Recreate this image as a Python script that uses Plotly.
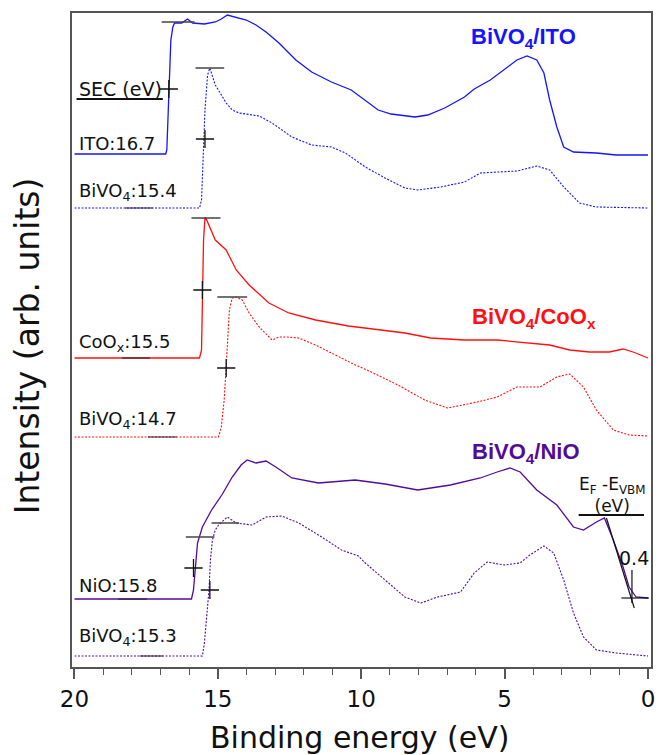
import plotly.graph_objects as go

# ---------------- data (binding energy in eV, intensity in arb. units) ----------------
ito_be = [20.0, 16.82, 16.78, 16.71, 16.64, 16.57, 16.51, 16.26, 16.06, 15.88, 15.47, 15.09, 14.88, 14.67,
          14.43, 14.01, 13.67, 13.32, 12.87, 12.28, 11.73, 11.04, 10.35, 9.86, 9.41, 8.96, 8.13, 7.68, 7.09,
          6.40, 6.06, 5.50, 5.02, 4.57, 4.22, 3.88, 3.63, 3.43, 3.18, 2.94, 2.60, 1.80, 1.11, 0.0]
ito_int = [513, 513, 517, 567, 627, 640, 644, 644, 648, 644, 643, 645, 648, 652,
           650, 647, 642, 635, 624, 607, 595, 585, 577, 567, 557, 553, 550, 552, 559,
           570, 578, 587, 597, 607, 611, 607, 594, 567, 540, 520, 515, 514, 512, 512]

bvo_ito_be = [20.0, 15.64, 15.57, 15.50, 15.45, 15.36, 15.28, 15.09, 14.71, 14.50, 14.26, 13.56, 13.11, 12.42,
              11.73, 11.04, 10.55, 9.86, 9.17, 8.48, 8.03, 7.23, 6.40, 5.85, 5.26, 4.57, 3.88, 3.43, 2.94,
              2.39, 1.80, 0.0]
bvo_ito_int = [459, 459, 467, 517, 557, 592, 599, 582, 564, 557, 554, 551, 544, 530,
               522, 520, 514, 500, 489, 479, 477, 480, 485, 494, 495, 496, 501, 497, 480,
               464, 460, 459]

coox_be = [20.0, 15.64, 15.57, 15.54, 15.50, 15.45, 15.42, 15.09, 14.71, 14.36, 13.91, 13.22, 12.53, 11.59,
           10.45, 9.31, 8.48, 7.58, 6.40, 5.26, 4.12, 3.43, 2.73, 2.04, 1.35, 0.87, 0.52, 0.0]
coox_int = [309, 309, 317, 367, 427, 449, 449, 427, 417, 397, 382, 364, 354, 347,
            341, 337, 334, 329, 327, 327, 324, 322, 317, 315, 315, 318, 315, 309]

bvo_coox_be = [20.0, 14.98, 14.88, 14.78, 14.71, 14.63, 14.60, 14.50, 14.36, 14.15, 13.91, 13.56, 13.11, 12.87,
               12.63, 12.18, 11.59, 11.04, 10.35, 9.65, 8.72, 7.79, 6.99, 5.95, 5.26, 4.57, 3.77, 3.18, 2.73,
               2.25, 1.80, 1.21, 0.66, 0.0]
bvo_coox_int = [230, 230, 240, 267, 300, 337, 357, 369, 370, 367, 354, 340, 327, 330,
                330, 329, 322, 314, 304, 295, 282, 267, 259, 265, 270, 280, 280, 290, 293,
                280, 257, 237, 232, 231]

nio_be = [20.0, 15.92, 15.85, 15.78, 15.71, 15.54, 15.22, 14.84, 14.50, 14.19, 13.98, 13.67, 13.32, 12.98,
          12.42, 11.49, 10.21, 9.17, 8.03, 6.89, 5.85, 5.26, 4.81, 4.46, 3.88, 3.18, 2.60, 2.25, 1.80,
          1.52, 1.21, 0.87, 0.66, 0.42, 0.0]
nio_int = [68, 68, 77, 102, 124, 140, 157, 173, 190, 202, 207, 204, 206, 200,
           189, 184, 187, 183, 177, 182, 189, 195, 199, 195, 177, 162, 140, 137, 145,
           149, 127, 100, 80, 70, 69]

bvo_nio_be = [20.0, 15.54, 15.47, 15.36, 15.31, 15.26, 15.19, 15.09, 14.98, 14.67, 14.36, 13.81, 13.32, 12.77,
              12.18, 11.38, 10.69, 10.10, 9.86, 9.17, 8.48, 7.92, 7.34, 6.54, 6.06, 5.61, 5.02, 4.46, 4.12,
              3.63, 3.29, 2.94, 2.60, 2.25, 1.80, 1.11, 0.0]
bvo_nio_int = [11, 11, 24, 67, 77, 107, 127, 137, 142, 150, 144, 142, 150, 151,
               144, 130, 117, 111, 104, 87, 70, 64, 70, 75, 94, 105, 102, 104, 112,
               121, 114, 87, 54, 30, 17, 14, 11]

# SEC analysis marks: plateau bars (start, end, level) and cutoff crosses
bar_x0 = [16.96, 15.78, 15.92, 15.02, 16.12, 15.22]
bar_x1 = [15.81, 14.78, 14.91, 13.98, 15.12, 14.26]
bar_y = [645, 599, 449, 370, 130, 144]
cross_x = [16.71, 15.45, 15.54, 14.71, 15.85, 15.28]
cross_y = [578, 528, 377, 299, 99, 77]

# sample labels
label_text = ["ITO:16.7", "BiVO<sub>4</sub>:15.4", "CoO<sub>x</sub>:15.5",
              "BiVO<sub>4</sub>:14.7", "NiO:15.8", "BiVO<sub>4</sub>:15.3"]
label_y = [524, 475, 324, 247, 82, 30]
label_x = 19.9

group_text = ["BiVO<sub>4</sub>/ITO", "BiVO<sub>4</sub>/CoO<sub>x</sub>", "BiVO<sub>4</sub>/NiO"]
group_x = [4.33, 3.98, 4.26]
group_y = [629, 349, 214]

# short darker key segments on the baselines
key_x0 = [18.24, 18.34, 17.44, 18.48, 17.72]
key_x1 = [17.27, 17.37, 16.44, 17.47, 16.92]
key_y = [459, 309, 230, 68, 11]

# VBM extrapolation for NiO
vbm_base_x = [0.93, -0.03]
vbm_base_y = [69, 69]
vbm_tan_x = [1.45, 0.48]
vbm_tan_y = [149, 59]
vbm_tick_x = [0.56, 0.56]
vbm_tick_y = [97, 64]

BLUE = "#1414ff"
RED = "#ff1010"
PURPLE = "#530a9c"

fig = go.Figure()

def curve(x, y, color, dotted, width):
    fig.add_trace(go.Scatter(
        x=x, y=y, mode="lines",
        line=dict(color=color, width=width, dash="2px,1.5px" if dotted else "solid"),
        showlegend=False, hoverinfo="skip"))

curve(ito_be, ito_int, BLUE, False, 1.3)
curve(bvo_ito_be, bvo_ito_int, BLUE, True, 1.1)
curve(coox_be, coox_int, RED, False, 1.3)
curve(bvo_coox_be, bvo_coox_int, RED, True, 1.1)
curve(nio_be, nio_int, PURPLE, False, 1.3)
curve(bvo_nio_be, bvo_nio_int, PURPLE, True, 1.1)

# key segments
for x0, x1, y in zip(key_x0, key_x1, key_y):
    fig.add_trace(go.Scatter(x=[x0, x1], y=[y, y], mode="lines",
                             line=dict(color="rgba(40,20,40,0.75)", width=1.3),
                             showlegend=False, hoverinfo="skip"))

# plateau bars
for x0, x1, y in zip(bar_x0, bar_x1, bar_y):
    fig.add_trace(go.Scatter(x=[x0, x1], y=[y, y], mode="lines",
                             line=dict(color="#444444", width=1.5),
                             showlegend=False, hoverinfo="skip"))

# cutoff crosses
fig.add_trace(go.Scatter(x=cross_x, y=cross_y, mode="markers",
                         marker=dict(symbol="cross-thin", size=13,
                                     line=dict(color="#111111", width=1.3)),
                         showlegend=False, hoverinfo="skip"))

# VBM lines
for xs, ys in [(vbm_base_x, vbm_base_y), (vbm_tan_x, vbm_tan_y), (vbm_tick_x, vbm_tick_y)]:
    fig.add_trace(go.Scatter(x=xs, y=ys, mode="lines",
                             line=dict(color="#111111", width=1.2),
                             showlegend=False, hoverinfo="skip"))

# SEC header underline and VBM header underline
fig.add_trace(go.Scatter(x=[19.93, 16.92], y=[568, 568], mode="lines",
                         line=dict(color="#111111", width=2),
                         showlegend=False, hoverinfo="skip"))
fig.add_trace(go.Scatter(x=[2.42, 0.14], y=[152, 152], mode="lines",
                         line=dict(color="#111111", width=2),
                         showlegend=False, hoverinfo="skip"))

ann = []
LF = dict(family="DejaVu Sans", size=18, color="#111111")
ann.append(dict(x=label_x, y=578, text="SEC (eV)", xanchor="left", yanchor="middle",
                showarrow=False, font=dict(family="DejaVu Sans", size=19, color="#111111")))
for t, y in zip(label_text, label_y):
    ann.append(dict(x=label_x, y=y, text=t, xanchor="left", yanchor="middle",
                    showarrow=False, font=LF))
for t, x, y, c in zip(group_text, group_x, group_y, [BLUE, RED, PURPLE]):
    ann.append(dict(x=x, y=y, text="<b>" + t + "</b>", xanchor="center", yanchor="middle",
                    showarrow=False, font=dict(family="Liberation Sans", size=22, color=c)))
ann.append(dict(x=1.26, y=172, text="E<sub>F</sub> -E<sub>VBM</sub><br>(eV)", xanchor="center",
                yanchor="middle", align="center", showarrow=False,
                font=dict(family="DejaVu Sans", size=17, color="#111111")))
ann.append(dict(x=0.48, y=109, text="0.4", xanchor="center", yanchor="middle",
                showarrow=False, font=dict(family="DejaVu Sans", size=19, color="#111111")))
# axis titles
ann.append(dict(xref="paper", yref="paper", x=0.497, y=-0.108, text="Binding energy (eV)",
                xanchor="center", yanchor="middle", showarrow=False,
                font=dict(family="DejaVu Sans", size=30, color="#111111")))
ann.append(dict(xref="paper", yref="paper", x=-0.077, y=0.491, text="Intensity (arb. units)",
                xanchor="center", yanchor="middle", showarrow=False, textangle=-90,
                font=dict(family="DejaVu Sans", size=33, color="#111111")))

fig.update_layout(
    width=660, height=755,
    margin=dict(l=72, r=5, t=13, b=88),
    paper_bgcolor="white", plot_bgcolor="white",
    annotations=ann,
    xaxis=dict(range=[20.087, -0.104], showgrid=False, zeroline=False,
               showline=True, linecolor="#555555", linewidth=2, mirror=True,
               tickmode="array", tickvals=[20, 15, 10, 5, 0], ticktext=["20", "15", "10", "5", "0"],
               ticks="outside", ticklen=10, tickwidth=1.5, tickcolor="#555555",
               minor=dict(tickmode="array", tickvals=list(range(0, 21)), ticks="outside",
                          ticklen=6, tickwidth=1.2, tickcolor="#555555"),
               tickfont=dict(family="DejaVu Sans", size=23, color="#111111")),
    yaxis=dict(range=[0, 654], showgrid=False, zeroline=False, showticklabels=False,
               showline=True, linecolor="#555555", linewidth=2, mirror=True, ticks=""),
)

fig.write_html("out.html", config={"displayModeBar": False},
               post_script="document.body.style.margin='0px';")
